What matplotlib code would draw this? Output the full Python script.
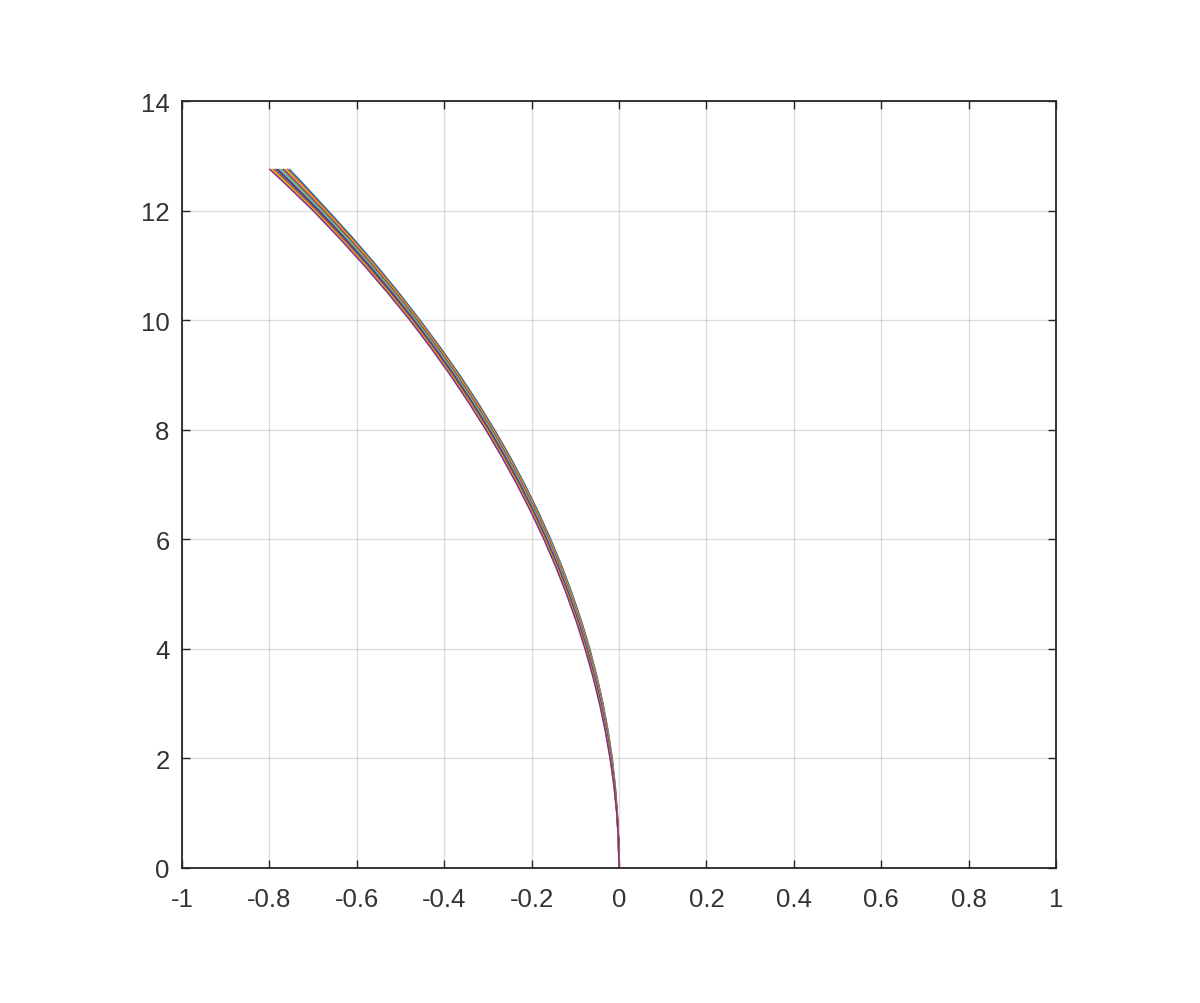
import matplotlib
matplotlib.use("Agg")
import matplotlib.pyplot as plt

# y levels shared by all curves
y_levels = [0, 0.5, 1, 1.5, 2, 2.5, 3, 3.5, 4, 4.5, 5, 5.5, 6, 6.5, 7, 7.5, 8, 8.5,
            9, 9.5, 10, 10.5, 11, 11.5, 12, 12.5, 12.76]

# x values of each curve, rightmost curve first
curve_01 = [0, -0.0009, -0.0039, -0.0087, -0.0155, -0.0250, -0.0366, -0.0507, -0.0669, -0.0858, -0.1070, -0.1305, -0.1564, -0.1848, -0.2156, -0.2490, -0.2850, -0.3236, -0.3648, -0.4088, -0.4554, -0.5040, -0.5554, -0.6093, -0.6662, -0.7241, -0.7552]
curve_02 = [0, -0.0009, -0.0040, -0.0090, -0.0160, -0.0256, -0.0374, -0.0516, -0.0680, -0.0870, -0.1083, -0.1319, -0.1580, -0.1865, -0.2174, -0.2509, -0.2870, -0.3257, -0.3670, -0.4110, -0.4577, -0.5066, -0.5582, -0.6124, -0.6696, -0.7282, -0.7597]
curve_03 = [0, -0.0010, -0.0041, -0.0093, -0.0165, -0.0263, -0.0382, -0.0526, -0.0691, -0.0882, -0.1096, -0.1334, -0.1595, -0.1882, -0.2192, -0.2528, -0.2890, -0.3278, -0.3691, -0.4133, -0.4600, -0.5091, -0.5610, -0.6155, -0.6730, -0.7323, -0.7642]
curve_04 = [0, -0.0010, -0.0043, -0.0095, -0.0170, -0.0269, -0.0390, -0.0535, -0.0702, -0.0894, -0.1110, -0.1348, -0.1611, -0.1898, -0.2210, -0.2547, -0.2910, -0.3298, -0.3713, -0.4155, -0.4624, -0.5117, -0.5638, -0.6186, -0.6764, -0.7364, -0.7687]
curve_05 = [0, -0.0011, -0.0044, -0.0098, -0.0175, -0.0276, -0.0398, -0.0545, -0.0713, -0.0906, -0.1123, -0.1363, -0.1626, -0.1915, -0.2228, -0.2566, -0.2930, -0.3319, -0.3734, -0.4178, -0.4647, -0.5142, -0.5666, -0.6217, -0.6798, -0.7405, -0.7732]
curve_06 = [0, -0.0011, -0.0045, -0.0101, -0.0180, -0.0282, -0.0406, -0.0554, -0.0724, -0.0918, -0.1136, -0.1377, -0.1642, -0.1932, -0.2246, -0.2585, -0.2950, -0.3340, -0.3756, -0.4200, -0.4670, -0.5168, -0.5694, -0.6248, -0.6832, -0.7446, -0.7777]
curve_07 = [0, -0.0011, -0.0046, -0.0104, -0.0185, -0.0288, -0.0414, -0.0563, -0.0735, -0.0930, -0.1149, -0.1391, -0.1658, -0.1949, -0.2264, -0.2604, -0.2970, -0.3361, -0.3778, -0.4222, -0.4693, -0.5194, -0.5722, -0.6279, -0.6866, -0.7487, -0.7822]
curve_08 = [0, -0.0012, -0.0047, -0.0107, -0.0190, -0.0295, -0.0422, -0.0573, -0.0746, -0.0942, -0.1162, -0.1406, -0.1673, -0.1966, -0.2282, -0.2623, -0.2990, -0.3382, -0.3799, -0.4245, -0.4716, -0.5219, -0.5750, -0.6310, -0.6900, -0.7528, -0.7867]
curve_09 = [0, -0.0012, -0.0049, -0.0109, -0.0195, -0.0301, -0.0430, -0.0582, -0.0757, -0.0954, -0.1176, -0.1420, -0.1689, -0.1982, -0.2300, -0.2642, -0.3010, -0.3402, -0.3821, -0.4267, -0.4740, -0.5245, -0.5778, -0.6341, -0.6934, -0.7569, -0.7912]
curve_10 = [0, -0.0013, -0.0050, -0.0112, -0.0200, -0.0308, -0.0438, -0.0592, -0.0768, -0.0966, -0.1189, -0.1435, -0.1704, -0.1999, -0.2318, -0.2661, -0.3030, -0.3423, -0.3842, -0.4290, -0.4763, -0.5270, -0.5806, -0.6372, -0.6968, -0.7610, -0.7957]
curve_11 = [0, -0.0013, -0.0051, -0.0115, -0.0205, -0.0314, -0.0446, -0.0601, -0.0779, -0.0978, -0.1202, -0.1449, -0.1720, -0.2016, -0.2336, -0.2680, -0.3050, -0.3444, -0.3864, -0.4312, -0.4786, -0.5296, -0.5834, -0.6403, -0.7002, -0.7651, -0.8002]

curves = [curve_01, curve_02, curve_03, curve_04, curve_05, curve_06,
          curve_07, curve_08, curve_09, curve_10, curve_11]

x_ticks = [-1, -0.8, -0.6, -0.4, -0.2, 0, 0.2, 0.4, 0.6, 0.8, 1]
x_tick_labels = ["-1", "-0.8", "-0.6", "-0.4", "-0.2", "0", "0.2", "0.4", "0.6", "0.8", "1"]
y_ticks = [0, 2, 4, 6, 8, 10, 12, 14]
y_tick_labels = ["0", "2", "4", "6", "8", "10", "12", "14"]

matlab_colors = ["#0072BD", "#D95319", "#EDB120", "#7E2F8E", "#77AC30", "#4DBEEE", "#A2142F"]

plt.rcParams['font.family'] = ['Liberation Sans', 'DejaVu Sans']

fig = plt.figure(figsize=(12, 10.04), dpi=100)
ax = fig.add_axes([0.1517, 0.1345, 0.7283, 0.7639])

for i, xs in enumerate(curves):
    ax.plot(xs, y_levels, color=matlab_colors[i % len(matlab_colors)], lw=1.1,
            solid_joinstyle='round', solid_capstyle='butt')

ax.set_xlim(-1, 1)
ax.set_ylim(0, 14)
ax.set_xticks(x_ticks)
ax.set_xticklabels(x_tick_labels)
ax.set_yticks(y_ticks)
ax.set_yticklabels(y_tick_labels)

edge = '#262626'
for s in ax.spines.values():
    s.set_color(edge)
    s.set_linewidth(1.3)
ax.tick_params(direction='in', length=6, width=1.0, color=edge, labelcolor='#333333',
               labelsize=18.5, top=True, right=True)
ax.tick_params(axis='x', pad=14)
ax.tick_params(axis='y', pad=9)
ax.grid(True, color='#262626', alpha=0.15, linewidth=1.0)
ax.set_axisbelow(True)

fig.savefig("out.png", dpi=100, facecolor='white')
